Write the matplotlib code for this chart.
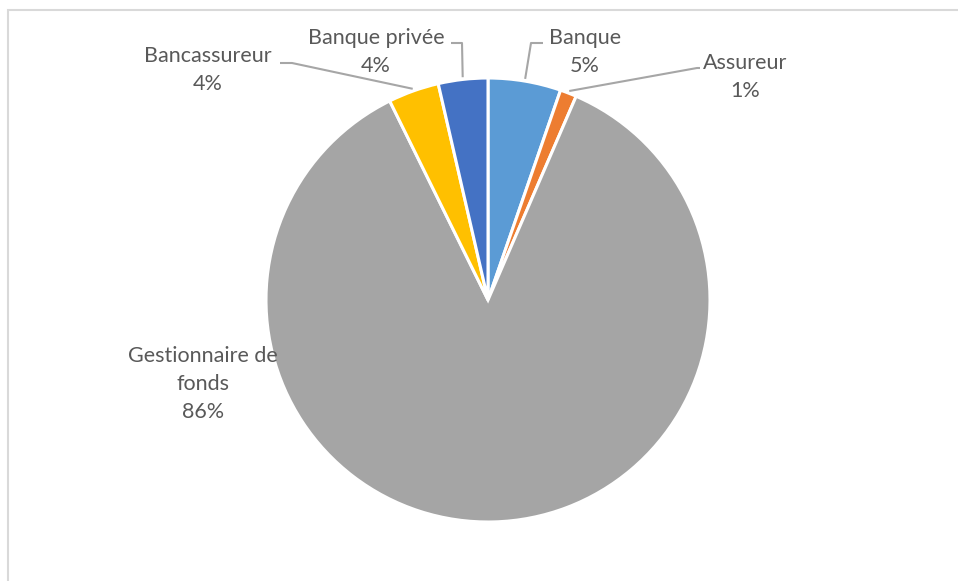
import numpy as np
import matplotlib
matplotlib.use("Agg")
import matplotlib.pyplot as plt
from matplotlib.patches import Rectangle

# Share of entities by type (percent), clockwise from 12 o'clock
categories = ["Banque", "Assureur", "Gestionnaire de fonds", "Bancassureur", "Banque privée"]
shares = [5.3, 1.2, 86.2, 3.7, 3.6]
colors = ["#5B9BD5", "#ED7D31", "#A5A5A5", "#FFC000", "#4472C4"]
label_texts = ["Banque", "Assureur", "Gestionnaire de\nfonds", "Bancassureur", "Banque privée"]

W, H = 958, 581
fig = plt.figure(figsize=(W / 100, H / 100), dpi=100)
ax = fig.add_axes([0, 0, 1, 1])
ax.set_xlim(0, W)
ax.set_ylim(0, H)
ax.set_aspect("equal")
ax.axis("off")

plt.rcParams["font.family"] = ["Lato", "DejaVu Sans"]
text_color = "#595959"
line_color = "#A6A6A6"

# chart frame
ax.add_patch(Rectangle((8, -20), W + 20, H - 10 + 20, fill=False,
                       edgecolor="#D9D9D9", linewidth=1.5))

cx, cy, r = 488, H - 300, 222
wedges, _ = ax.pie(shares, colors=colors, startangle=90, counterclock=False,
                   center=(cx, cy), radius=r, frame=True,
                   wedgeprops=dict(edgecolor="white", linewidth=2.2))
ax.set_xlim(0, W)
ax.set_ylim(0, H)
ax.axis("off")

# label anchor positions (pixel space, y from top) and leader-line elbows
label_pos = {
    "Banque": (585, 52),
    "Assureur": (745, 77),
    "Gestionnaire de fonds": (203, 384),
    "Bancassureur": (208, 70),
    "Banque privée": (376, 52),
}
elbows = {
    "Banque": [(531, 43), (543, 43)],
    "Assureur": [(697, 68), (700, 68)],
    "Bancassureur": [(292, 63), (280, 63)],
    "Banque privée": [(462, 43), (451, 43)],
}

for w, cat, txt, val in zip(wedges, categories, label_texts, shares):
    lx, ly = label_pos[cat]
    ax.text(lx, H - ly, f"{txt}\n{val:.0f}%", ha="center", va="center",
            fontsize=15.5, color=text_color, linespacing=1.52)
    if cat in elbows:
        mid = np.deg2rad((w.theta1 + w.theta2) / 2)
        sx = cx + r * 1.01 * np.cos(mid)
        sy = cy + r * 1.01 * np.sin(mid)
        pts = [(sx, sy)] + [(x, H - y) for x, y in elbows[cat]]
        xs, ys = zip(*pts)
        ax.plot(xs, ys, color=line_color, linewidth=1.5, solid_capstyle="butt")

fig.savefig("out.png", dpi=100, facecolor="white")
